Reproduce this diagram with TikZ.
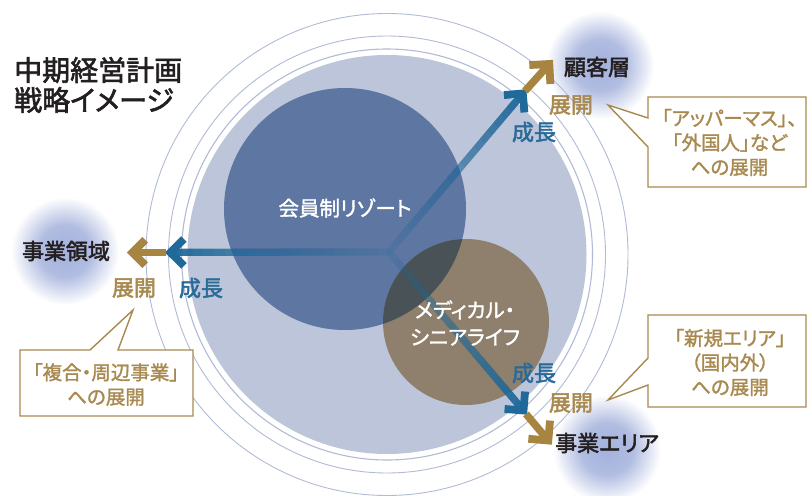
\documentclass[tikz,border=0pt]{standalone}
\usepackage{fontspec}
\setmainfont{Noto Sans CJK JP}[RawFeature=+palt, FakeBold=1.5]
\newfontfamily\headfont{Noto Sans CJK JP}[RawFeature=+palt, FakeBold=2.2]
\usetikzlibrary{calc}
\definecolor{lightc}{HTML}{BCC5D9}
\definecolor{darkc}{HTML}{5E76A2}
\definecolor{brownc}{HTML}{8E806C}
\definecolor{overc}{HTML}{495256}
\definecolor{ringc}{HTML}{B1BBD5}
\definecolor{glowc}{HTML}{A3B1DC}
\colorlet{glowm}{glowc!85!white}
\definecolor{arrb}{HTML}{1F6A9B}
\definecolor{arrg}{HTML}{A7843F}
\definecolor{txtb}{HTML}{2A6A98}
\definecolor{txtg}{HTML}{A8894F}
\definecolor{ink}{HTML}{231F20}
\pgfdeclareradialshading{glow}{\pgfpoint{0bp}{0bp}}{color(0bp)=(glowc); color(12bp)=(glowm); color(25bp)=(white); color(50bp)=(white)}
\newcommand\chev[5]{\draw[#3, line width=7.8, line join=miter] ($(#1)!#5pt!#4:(#2)$) -- (#1) -- ($(#1)!#5pt!-#4:(#2)$);}
\newcommand\bshaft[2]{%
  \draw[arrb, line width=7, opacity=0.2] (#1) -- (#2);
  \foreach \k in {1,...,19}{%
    \pgfmathsetmacro\fr{\k/20}\pgfmathsetmacro\op{1/(21-\k)}%
    \draw[arrb, line width=7, opacity=\op] ($(#1)!\fr!(#2)$) -- (#2);}}
\begin{document}
\begin{tikzpicture}[x=1pt,y=-1pt,
  lab/.style={inner sep=0pt, text=ink, font=\headfont\fontsize{22}{26}\selectfont},
  growlbl/.style={inner sep=0pt, text=txtb, font=\headfont\fontsize{22}{26}\selectfont},
  expdlbl/.style={inner sep=0pt, text=txtg, font=\headfont\fontsize{22}{26}\selectfont},
  incirc/.style={inner sep=0pt, text=white, align=center, font=\fontsize{20.5}{27}\selectfont},
  boxtxt/.style={inner sep=0pt, text=txtg, align=center, font=\fontsize{19.5}{24.5}\selectfont},
  callout/.style={draw=txtg, line width=1.4, fill=white, line join=miter},
  ring/.style={draw=ringc, line width=0.9}]
\useasboundingbox (0,0) rectangle (808,495);
\fill[white] (0,0) rectangle (808,495);
% glows
\shade[shading=glow] (600,65) circle (54);
\shade[shading=glow] (65,251) circle (54);
\shade[shading=glow] (607,449) circle (54);
% rings and circles
\coordinate (C) at (387,254.5);
\draw[ring] (C) circle (241);
\draw[ring] (C) circle (218.5);
\draw[ring, line width=1.1] (C) circle (205.5);
\fill[lightc] (C) circle (199.5);
\fill[darkc] (345,209) circle (121);
\fill[brownc] (466,322) circle (83);
\begin{scope}
  \clip (345,209) circle (121);
  \fill[overc] (466,322) circle (83);
\end{scope}
% arrows
\coordinate (O) at (389,252);
\coordinate (TBL) at (170.5,252.5);
\coordinate (TBU) at (522.8,93.5);
\coordinate (TBD) at (523.5,410.5);
\coordinate (SGL) at (166,252.5);
\coordinate (TGL) at (132.5,252.5);
\coordinate (SGU) at (525,91);
\coordinate (TGU) at (549.3,64);
\coordinate (SGD) at (526,414);
\coordinate (TGD) at (548.3,440.5);
\bshaft{O}{TBL}
\bshaft{O}{TBU}
\bshaft{O}{TBD}
\chev{TBL}{O}{arrb}{45}{19}
\chev{TBU}{O}{arrb}{45}{19}
\chev{TBD}{O}{arrb}{45}{19}
\draw[arrg, line width=7.5] (SGL) -- (TGL);
\draw[arrg, line width=7.5] (SGU) -- (TGU);
\draw[arrg, line width=7.5] (SGD) -- (TGD);
\chev{TGL}{SGL}{arrg}{45}{18}
\chev{TGU}{SGU}{arrg}{45}{20}
\chev{TGD}{SGD}{arrg}{45}{20}
% circle texts
\node[incirc] (resort) at (345,208) {会員制リゾート};
\node[incirc] (medical) at (465,323) {メディカル・\\シニアライフ};
% labels
\node[lab] (ryoiki) at (66,251) {事業領域};
\node[lab] (kokyaku) at (597,67) {顧客層};
\node[lab] (area) at (607,443) {事業エリア};
\node[growlbl] (g1) at (201,288) {成長};
\node[expdlbl] (e1) at (134,288) {展開};
\node[growlbl] (g2) at (534,132) {成長};
\node[expdlbl] (e2) at (571,105) {展開};
\node[growlbl] (g3) at (534,373) {成長};
\node[expdlbl] (e3) at (571,403) {展開};
% title
\node[anchor=west, inner sep=0pt, text=ink, align=left, font=\headfont\fontsize{28}{30}\selectfont] (title) at (14,85) {中期経営計画\\戦略イメージ};
% callouts
\draw[callout] (806,97) -- (648,97) -- (648,118) -- (608,105) -- (648,147) -- (648,187) -- (806,187) -- cycle;
\node[boxtxt] (c1) at (729.5,142.5) {「アッパーマス」、\\「外国人」など\\への展開};
\draw[callout] (806,315) -- (648,315) -- (648,358) -- (608,400) -- (648,385) -- (648,407) -- (806,407) -- cycle;
\node[boxtxt] (c2) at (730,362.5) {「新規エリア」\\（国内外）\\への展開};
\draw[callout] (20,350) -- (90,350) -- (133,310) -- (118,350) -- (193,350) -- (193,416) -- (20,416) -- cycle;
\node[boxtxt] (c3) at (106,384.5) {「複合・周辺事業」\\への展開};
\end{tikzpicture}
\end{document}
